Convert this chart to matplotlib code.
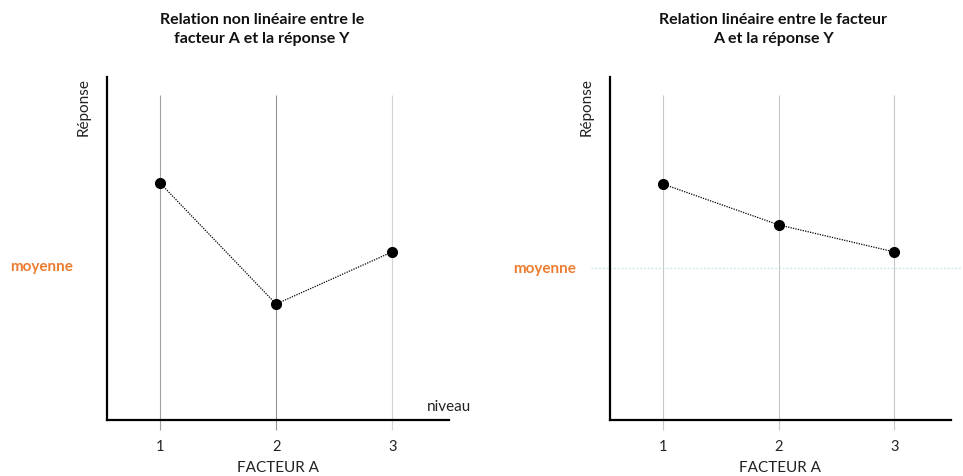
import matplotlib
matplotlib.use("Agg")
import matplotlib.pyplot as plt

plt.rcParams['font.family'] = ['Lato', 'DejaVu Sans']

# data (arbitrary response units, 0..10)
niveaux = [1, 2, 3]
tick_labels = ['1', '2', '3']
reponse_non_lin = [6.91, 3.38, 4.90]
reponse_lin = [6.88, 5.69, 4.90]
moyenne_non_lin = 4.49
moyenne_lin = 4.43

titre_gauche = "Relation non linéaire entre le\nfacteur A et la réponse Y"
titre_droite = "Relation linéaire entre le facteur\nA et la réponse Y"

orange = '#ED7D31'

fig = plt.figure(figsize=(9.63, 4.77), dpi=100)
ax1 = fig.add_axes([0.1111, 0.1174, 0.3552, 0.7191])
ax2 = fig.add_axes([0.6334, 0.1174, 0.3541, 0.7191])


def style_axes(ax, grid_colors, niveau_label):
    ax.set_xlim(0.543, 3.49)
    ax.set_ylim(0, 10)
    for s in ['top', 'right']:
        ax.spines[s].set_visible(False)
    for s in ['left', 'bottom']:
        ax.spines[s].set_linewidth(1.6)
        ax.spines[s].set_color('black')
    ax.set_yticks([])
    ax.set_xticks(niveaux)
    ax.set_xticklabels(tick_labels, fontsize=10.5, color='#222222')
    ax.tick_params(axis='x', length=0, pad=14)
    ax.text(0.5, -0.137, 'FACTEUR A', ha='center', va='center',
            transform=ax.transAxes, fontsize=11, color='#222222')
    ax.text(-0.067, 1.0, 'Réponse', rotation=90, ha='center', va='top',
            transform=ax.transAxes, fontsize=11, color='#222222')
    for x, c in zip(niveaux, grid_colors):
        ax.vlines(x, -0.29, 9.48, color=c, lw=0.8, clip_on=False, zorder=1)
    if niveau_label:
        ax.text(1.0, 0.04, 'niveau', ha='center', va='center',
                transform=ax.transAxes, fontsize=11, color='#222222')


style_axes(ax1, ['#a0a0a0', '#939393', '#d4d4d4'], True)
style_axes(ax2, ['#c8c8c8', '#c8c8c8', '#c8c8c8'], False)

ax1.plot(niveaux, reponse_non_lin, color='black', ls=(0, (1, 1)), lw=0.9,
         marker='o', markersize=7, zorder=3, clip_on=False)
ax2.plot(niveaux, reponse_lin, color='black', ls=(0, (1, 1)), lw=0.9,
         marker='o', markersize=7, zorder=3, clip_on=False)

# mean line on the right panel
ax2.plot([0.38, 3.58], [moyenne_lin, moyenne_lin], color='#cfe2ea',
         ls=(0, (1.5, 1.5)), lw=0.9, clip_on=False, zorder=0)

# "moyenne" labels
y1 = ax1.transData.transform((0, moyenne_non_lin))[1]
fig.text(10 / 963, y1 / fig.bbox.height, 'moyenne', color=orange,
         fontsize=11, fontweight='bold', ha='left', va='center')
y2 = ax2.transData.transform((0, moyenne_lin))[1]
fig.text(513 / 963, y2 / fig.bbox.height, 'moyenne', color=orange,
         fontsize=11, fontweight='bold', ha='left', va='center')

fig.text(0.272, 0.939, titre_gauche, ha='center', va='center',
         fontsize=11.5, fontweight='bold', color='#111111', linespacing=1.45)
fig.text(0.803, 0.939, titre_droite, ha='center', va='center',
         fontsize=11.5, fontweight='bold', color='#111111', linespacing=1.45)

fig.savefig('out.png', dpi=100)
